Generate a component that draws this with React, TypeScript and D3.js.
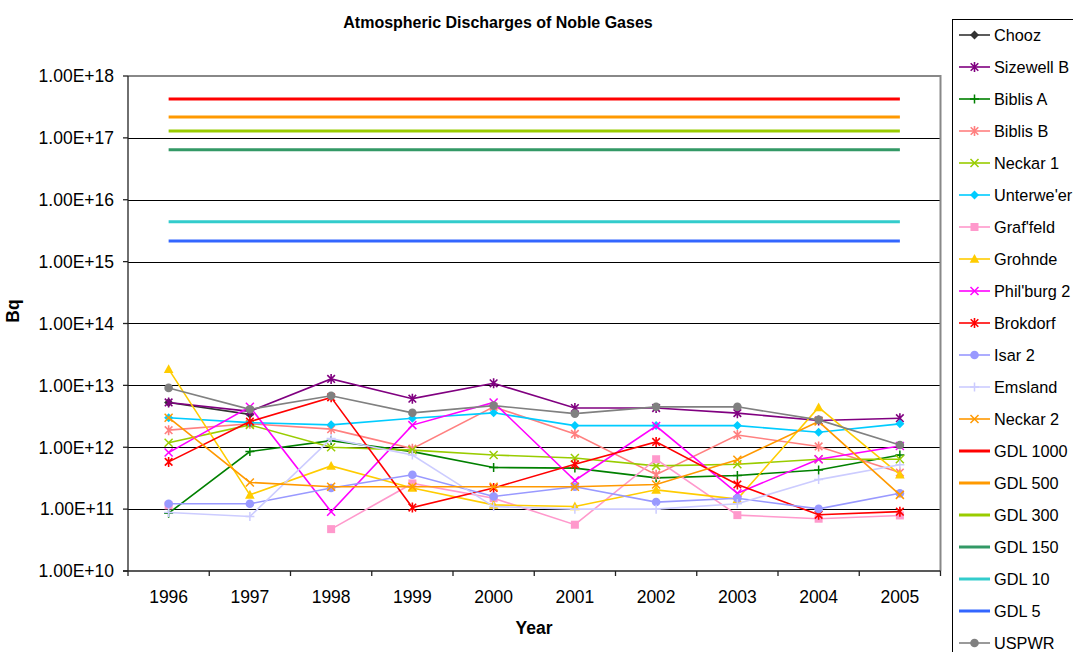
import React from "react";
import * as d3 from "d3";

const years = ["1996", "1997", "1998", "1999", "2000", "2001", "2002", "2003", "2004", "2005"];

const yTickValues = [1e10, 1e11, 1e12, 1e13, 1e14, 1e15, 1e16, 1e17, 1e18];
const yTickLabels = ["1.00E+10", "1.00E+11", "1.00E+12", "1.00E+13", "1.00E+14", "1.00E+15", "1.00E+16", "1.00E+17", "1.00E+18"];

const chooz = [5.3e12, 3.4e12, null, null, null, null, null, null, null, null];
const sizewellB = [5.3e12, 3.8e12, 1.27e13, 6.1e12, 1.08e13, 4.3e12, 4.3e12, 3.56e12, 2.7e12, 2.95e12];
const biblisA = [8.6e10, 8.5e11, 1.28e12, 8.5e11, 4.7e11, 4.6e11, 3.2e11, 3.5e11, 4.3e11, 7.5e11];
const biblisB = [1.89e12, 2.4e12, 1.96e12, 9.5e11, 4.5e12, 1.64e12, 3.6e11, 1.58e12, 1.03e12, 3.9e11];
const neckar1 = [1.18e12, 2.3e12, 1.0e12, 9.0e11, 7.5e11, 6.7e11, 5.0e11, 5.3e11, 6.4e11, 6.4e11];
const unterweser = [3.0e12, 2.5e12, 2.3e12, 2.95e12, 3.6e12, 2.24e12, 2.24e12, 2.24e12, 1.75e12, 2.39e12];
const graffeld = [1.15e11, null, 4.75e10, 2.6e11, 1.5e11, 5.6e10, 6.4e11, 8.0e10, 7.0e10, 7.9e10];
const grohnde = [1.83e13, 1.7e11, 5.0e11, 2.2e11, 1.17e11, 1.1e11, 2.05e11, 1.45e11, 4.4e12, 3.6e11];
const philburg2 = [8.2e11, 4.5e12, 9.1e10, 2.28e12, 5.3e12, 2.9e11, 2.2e12, 1.8e11, 6.4e11, 1.05e12];
const brokdorf = [5.8e11, 2.6e12, 6.4e12, 1.06e11, 2.2e11, 5.3e11, 1.22e12, 2.5e11, 8.1e10, 9.1e10];
const isar2 = [1.22e11, 1.22e11, 2.2e11, 3.6e11, 1.6e11, 2.3e11, 1.3e11, 1.5e11, 1.01e11, 1.8e11];
const emsland = [8.8e10, 7.6e10, 1.38e12, 7.5e11, 1.1e11, 1.0e11, 1.0e11, 1.22e11, 3.0e11, 5.2e11];
const neckar2 = [3.0e12, 2.7e11, 2.3e11, 2.3e11, 2.3e11, 2.3e11, 2.5e11, 6.3e11, 2.6e12, 1.7e11];
const gdl1000 = [4.25e17, 4.25e17, 4.25e17, 4.25e17, 4.25e17, 4.25e17, 4.25e17, 4.25e17, 4.25e17, 4.25e17];
const gdl500 = [2.18e17, 2.18e17, 2.18e17, 2.18e17, 2.18e17, 2.18e17, 2.18e17, 2.18e17, 2.18e17, 2.18e17];
const gdl300 = [1.29e17, 1.29e17, 1.29e17, 1.29e17, 1.29e17, 1.29e17, 1.29e17, 1.29e17, 1.29e17, 1.29e17];
const gdl150 = [6.4e16, 6.4e16, 6.4e16, 6.4e16, 6.4e16, 6.4e16, 6.4e16, 6.4e16, 6.4e16, 6.4e16];
const gdl10 = [4.4e15, 4.4e15, 4.4e15, 4.4e15, 4.4e15, 4.4e15, 4.4e15, 4.4e15, 4.4e15, 4.4e15];
const gdl5 = [2.16e15, 2.16e15, 2.16e15, 2.16e15, 2.16e15, 2.16e15, 2.16e15, 2.16e15, 2.16e15, 2.16e15];
const uspwr = [9.1e12, 4.1e12, 6.8e12, 3.6e12, 4.7e12, 3.5e12, 4.5e12, 4.5e12, 2.77e12, 1.09e12];

type Marker = "diamond" | "star" | "plus" | "x" | "square" | "triangle" | "circle" | "none";
interface Series { name: string; values: (number | null)[]; color: string; marker: Marker; width: number; }

const series: Series[] = [
  { name: "Chooz", values: chooz, color: "#333333", marker: "diamond", width: 1.6 },
  { name: "Sizewell B", values: sizewellB, color: "#800080", marker: "star", width: 1.6 },
  { name: "Biblis A", values: biblisA, color: "#008000", marker: "plus", width: 1.6 },
  { name: "Biblis B", values: biblisB, color: "#FF8080", marker: "star", width: 1.6 },
  { name: "Neckar 1", values: neckar1, color: "#99CC00", marker: "x", width: 1.6 },
  { name: "Unterwe'er", values: unterweser, color: "#00CCFF", marker: "diamond", width: 1.6 },
  { name: "Graf'feld", values: graffeld, color: "#FF99CC", marker: "square", width: 1.6 },
  { name: "Grohnde", values: grohnde, color: "#FFCC00", marker: "triangle", width: 1.6 },
  { name: "Phil'burg 2", values: philburg2, color: "#FF00FF", marker: "x", width: 1.6 },
  { name: "Brokdorf", values: brokdorf, color: "#FF0000", marker: "star", width: 1.6 },
  { name: "Isar 2", values: isar2, color: "#9999FF", marker: "circle", width: 1.6 },
  { name: "Emsland", values: emsland, color: "#CCCCFF", marker: "plus", width: 1.6 },
  { name: "Neckar 2", values: neckar2, color: "#FF9900", marker: "x", width: 1.6 },
  { name: "GDL 1000", values: gdl1000, color: "#FF0000", marker: "none", width: 3 },
  { name: "GDL 500", values: gdl500, color: "#FF9900", marker: "none", width: 3 },
  { name: "GDL 300", values: gdl300, color: "#99CC00", marker: "none", width: 3 },
  { name: "GDL 150", values: gdl150, color: "#339966", marker: "none", width: 3 },
  { name: "GDL 10", values: gdl10, color: "#33CCCC", marker: "none", width: 3 },
  { name: "GDL 5", values: gdl5, color: "#3366FF", marker: "none", width: 3 },
  { name: "USPWR", values: uspwr, color: "#808080", marker: "circle", width: 1.6 },
];

const FONT = "'Liberation Sans', Arial, sans-serif";

function drawMarker(m: Marker, cx: number, cy: number, color: string, key: string) {
  switch (m) {
    case "diamond":
      return <path key={key} d={`M${cx},${cy - 4.5}L${cx + 4.5},${cy}L${cx},${cy + 4.5}L${cx - 4.5},${cy}Z`} fill={color} />;
    case "circle":
      return <circle key={key} cx={cx} cy={cy} r={4.3} fill={color} />;
    case "square":
      return <rect key={key} x={cx - 4} y={cy - 4} width={8} height={8} fill={color} />;
    case "triangle":
      return <path key={key} d={`M${cx},${cy - 5}L${cx + 4.8},${cy + 3.8}L${cx - 4.8},${cy + 3.8}Z`} fill={color} />;
    case "plus":
      return <path key={key} d={`M${cx - 4.5},${cy}H${cx + 4.5}M${cx},${cy - 4.5}V${cy + 4.5}`} stroke={color} strokeWidth={1.5} fill="none" />;
    case "x":
      return <path key={key} d={`M${cx - 4},${cy - 4}L${cx + 4},${cy + 4}M${cx - 4},${cy + 4}L${cx + 4},${cy - 4}`} stroke={color} strokeWidth={1.5} fill="none" />;
    case "star":
      return <path key={key} d={`M${cx - 3.8},${cy - 3.8}L${cx + 3.8},${cy + 3.8}M${cx - 3.8},${cy + 3.8}L${cx + 3.8},${cy - 3.8}M${cx},${cy - 5}V${cy + 5}`} stroke={color} strokeWidth={1.6} fill="none" />;
    default:
      return null;
  }
}

export default function App() {
  const W = 1073, H = 652;
  const left = 128, right = 940.5, top = 76, bottom = 571;
  const x = d3.scaleBand<string>().domain(years).range([left, right]);
  const y = d3.scaleLog().domain([1e10, 1e18]).range([bottom, top]);
  const cx = (yr: string) => (x(yr) as number) + x.bandwidth() / 2;

  const line = d3.line<number | null>()
    .defined((d) => d != null)
    .x((_, i) => cx(years[i]))
    .y((d) => y(d as number));

  const legendX = 952.5, legendY = 19.5;
  const legendStart = 35, legendStep = 32;

  return (
    <div style={{ position: "absolute", left: 0, top: 0 }}>
      <svg width={W} height={H} style={{ display: "block", fontFamily: FONT }}>
        <rect x={0} y={0} width={W} height={H} fill="#fff" />
        <text x={498} y={27.5} textAnchor="middle" fontSize={16} fontWeight="bold">Atmospheric Discharges of Noble Gases</text>

        {/* gridlines */}
        {yTickValues.slice(1, -1).map((v) => (
          <line key={v} x1={left} x2={right} y1={Math.round(y(v)) + 0.5} y2={Math.round(y(v)) + 0.5} stroke="#000" strokeWidth={1} />
        ))}
        {/* plot frame top/right gray */}
        <path d={`M${left},${top}H${right}V${bottom}`} stroke="#888" strokeWidth={2} fill="none" />

        {/* axes */}
        <line x1={left} x2={left} y1={top} y2={bottom} stroke="#222" strokeWidth={1.3} />
        <line x1={left - 5} x2={right} y1={bottom} y2={bottom} stroke="#222" strokeWidth={1.3} />
        {yTickValues.map((v, i) => (
          <g key={v}>
            <line x1={left - 5} x2={left} y1={y(v)} y2={y(v)} stroke="#222" strokeWidth={1.3} />
            <text x={114} y={y(v)} dy="0.36em" textAnchor="end" fontSize={17.5}>{yTickLabels[i]}</text>
          </g>
        ))}
        {years.map((yr) => (
          <line key={"t" + yr} x1={x(yr) as number} x2={x(yr) as number} y1={bottom} y2={bottom + 5} stroke="#222" strokeWidth={1.3} />
        ))}
        <line x1={right} x2={right} y1={bottom} y2={bottom + 5} stroke="#222" strokeWidth={1.3} />
        {years.map((yr) => (
          <text key={"l" + yr} x={cx(yr)} y={603} textAnchor="middle" fontSize={17.5}>{yr}</text>
        ))}
        <text x={534} y={634} textAnchor="middle" fontSize={17.5} fontWeight="bold">Year</text>
        <text transform={`translate(19,311) rotate(-90)`} textAnchor="middle" fontSize={17.5} fontWeight="bold">Bq</text>

        {/* series */}
        {series.map((s) => (
          <g key={s.name}>
            <path d={line(s.values) || ""} stroke={s.color} strokeWidth={s.width} fill="none" />
            {s.values.map((v, i) => (v == null ? null : drawMarker(s.marker, cx(years[i]), y(v), s.color, s.name + i)))}
          </g>
        ))}

        {/* legend */}
        <rect x={legendX} y={legendY} width={200} height={700} fill="#fff" stroke="#000" strokeWidth={1} />
        {series.map((s, i) => {
          const ly = legendStart + i * legendStep;
          return (
            <g key={"lg" + s.name}>
              <line x1={959} x2={990} y1={ly} y2={ly} stroke={s.color} strokeWidth={s.width} />
              {drawMarker(s.marker, 974.5, ly, s.color, "lm" + s.name)}
              <text x={994} y={ly + 6} fontSize={16.3}>{s.name}</text>
            </g>
          );
        })}
      </svg>
    </div>
  );
}
